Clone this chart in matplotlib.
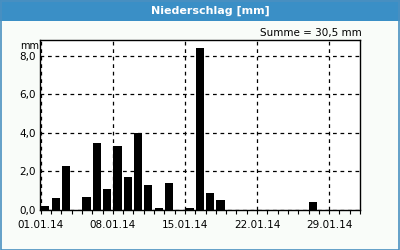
import matplotlib
matplotlib.use("Agg")
import matplotlib.pyplot as plt
import matplotlib.patches as mpatches
from matplotlib.ticker import MultipleLocator, FixedLocator, FuncFormatter

# Data: daily precipitation January 2014 (day index 0 = 01.01.14)
days = list(range(31))
values = [0.2, 0.6, 2.3, 0.0, 0.7, 3.5, 1.1, 3.3, 1.7, 4.0, 1.3, 0.1, 1.4, 0.0,
          0.1, 8.4, 0.9, 0.5, 0.0, 0.0, 0.0, 0.0, 0.0, 0.0, 0.0, 0.0, 0.4, 0.0,
          0.0, 0.0, 0.0]
date_ticks = [0, 7, 14, 21, 28]
date_labels = ["01.01.14", "08.01.14", "15.01.14", "22.01.14", "29.01.14"]
y_ticks = [0, 2, 4, 6, 8]
title = "Niederschlag [mm]"
unit = "mm"
summe = "Summe = 30,5 mm"

W, H = 400, 250
fig = plt.figure(figsize=(W / 100, H / 100), dpi=100)
bg = "#f9fcf9"
blue = "#3a8fc6"
fig.patch.set_facecolor(bg)

# Title bar and border
fig.patches.append(mpatches.Rectangle((0, 1 - 21 / H), 1, 21 / H, transform=fig.transFigure,
                                      facecolor=blue, edgecolor="none", zorder=0))
fig.patches.append(mpatches.Rectangle((0.5 / W, 0.5 / H), 1 - 1.5 / W, 1 - 1.5 / H,
                                      transform=fig.transFigure, facecolor="none",
                                      edgecolor="#4a90c0", linewidth=1.2, zorder=5))
fig.text(0.525, 1 - 11 / H, title, color="white", fontsize=8, fontweight="bold",
         ha="center", va="center")

ax = fig.add_axes([40 / W, (H - 210) / H, 320 / W, 170 / H])
ax.set_facecolor("white")
ax.bar([d + 0.05 for d in days], values, width=0.8, align="edge", color="black", zorder=3)
ax.set_xlim(-0.07, 31.0)
ax.set_ylim(0, 8.83)

ax.yaxis.set_major_locator(FixedLocator(y_ticks))
ax.yaxis.set_major_formatter(FuncFormatter(lambda v, p: f"{v:.1f}".replace(".", ",")))
ax.xaxis.set_major_locator(FixedLocator(date_ticks))
ax.set_xticklabels(date_labels)
ax.xaxis.set_minor_locator(MultipleLocator(1))

ax.grid(True, which="major", color="black", linestyle=(0, (3, 3)), linewidth=0.9, zorder=1)
ax.tick_params(axis="y", length=0, labelsize=7.5, pad=3)
ax.tick_params(axis="x", which="both", length=3, direction="out", labelsize=7.5, pad=4,
               width=0.8)
for s in ax.spines.values():
    s.set_linewidth(1.0)
    s.set_color("black")

fig.text(29.5 / W, 1 - 46 / H, unit, fontsize=7, ha="center", va="center")
fig.text(362 / W, 1 - 33 / H, summe, fontsize=7.5, ha="right", va="center")

fig.savefig("out.png", dpi=100, facecolor=bg)
